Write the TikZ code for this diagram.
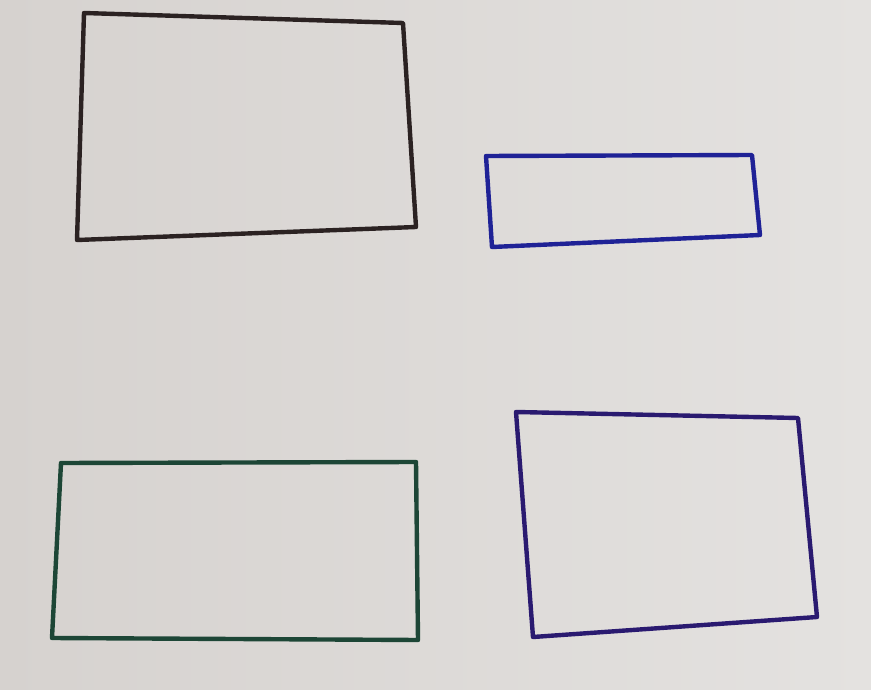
\documentclass[tikz,border=0pt]{standalone}
\usetikzlibrary{calc}
\definecolor{paper}{HTML}{D6D2CF}
\definecolor{paperlight}{HTML}{E4E2E0}
\definecolor{penblack}{HTML}{2B2222}
\definecolor{penblue}{HTML}{1F2296}
\definecolor{pengreen}{HTML}{1D4636}
\definecolor{penpurple}{HTML}{2A1A70}
\tikzset{
  pen/.style={line width=4.4pt, line join=round, line cap=round},
}
\begin{document}
\begin{tikzpicture}[x=1pt,y=-1pt]
  \useasboundingbox (0,0) rectangle (871,690);
  \shade[left color=paper, right color=paperlight] (0,0) rectangle (871,690);
  % black rectangle
  \coordinate (a1) at (84,13);
  \coordinate (a2) at (403,23);
  \coordinate (a3) at (416,227);
  \coordinate (a4) at (77,240);
  \draw[pen, penblack] (a1) -- (a2) -- (a3) -- (a4) -- cycle;
  % blue rectangle
  \coordinate (b1) at (486,156);
  \coordinate (b2) at (752,155);
  \coordinate (b3) at (760,235);
  \coordinate (b4) at (492,247);
  \draw[pen, penblue] (b1) -- (b2) -- (b3) -- (b4) -- cycle;
  % green rectangle
  \coordinate (c1) at (61,463);
  \coordinate (c2) at (416,462);
  \coordinate (c3) at (418,640);
  \coordinate (c4) at (52,638);
  \draw[pen, pengreen] (c1) -- (c2) -- (c3) -- (c4) -- cycle;
  % purple rectangle
  \coordinate (d1) at (516,412);
  \coordinate (d2) at (798,418);
  \coordinate (d3) at (817,617);
  \coordinate (d4) at (533,637);
  \draw[pen, penpurple] (d1) -- (d2) -- (d3) -- (d4) -- cycle;
\end{tikzpicture}
\end{document}
